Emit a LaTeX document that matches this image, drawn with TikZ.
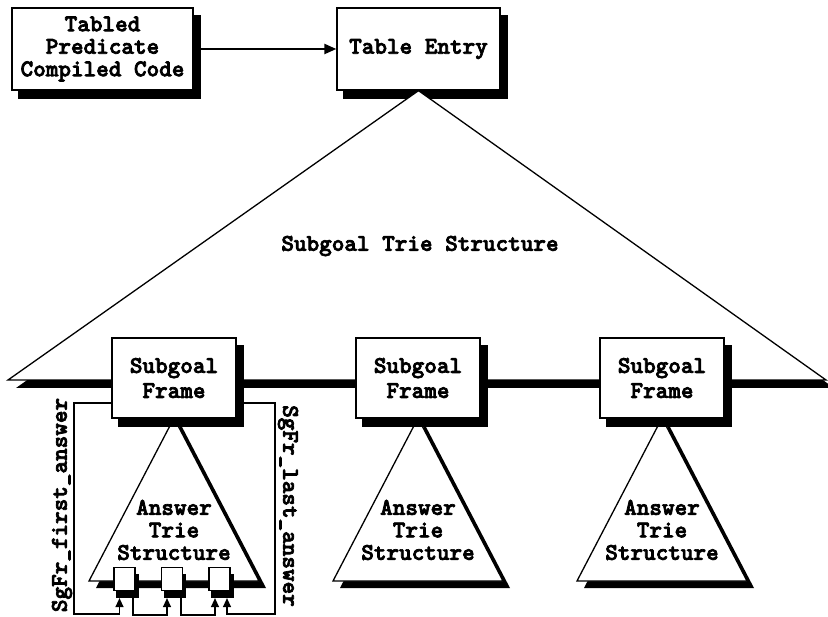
\documentclass[tikz,border=0pt]{standalone}
\usepackage{fontspec}
\newfontfamily\cour{lmmonolt10-bold}[Extension=.otf, FakeBold=3]
\usetikzlibrary{arrows.meta,shadows}
\begin{document}
\begin{tikzpicture}[x=1pt,y=-1pt,
  lbl/.style={font=\fontsize{24}{22.5}\cour, align=center, inner sep=0pt},
  shd/.style={drop shadow={shadow xshift=#1, shadow yshift=-8pt, fill=black, draw=black, opacity=1}},
  bigbox/.style={draw=black, line width=1.3pt, fill=white, lbl, shd=7pt},
  framebox/.style={bigbox, minimum width=124pt, minimum height=80pt, font=\fontsize{24}{25}\cour},
  smallbox/.style={draw=black, line width=1.2pt, fill=white, minimum width=21pt, minimum height=23pt, inner sep=0pt,
     drop shadow={shadow xshift=3pt, shadow yshift=-7pt, fill=black, draw=black, opacity=1}},
  tri/.style={draw=black, line width=1.3pt, fill=white, line join=miter},
  trishadow/.style={fill=black},
  conn/.style={draw=black, line width=1.3pt},
  upar/.style={conn, -{Triangle[length=9pt,width=8pt]}}
]
\useasboundingbox (0,0) rectangle (828,617);
% top boxes
\node[bigbox, minimum width=181pt, minimum height=82pt] (ta) at (102.5,49) {Tabled\\Predicate\\Compiled Code};
\node[bigbox, minimum width=163pt, minimum height=82pt] (te) at (418.5,49) {Table Entry};
\draw[line width=2.2pt, -{Triangle[length=12pt,width=10pt]}] (ta) -- (te);
% big triangle
\fill[trishadow] (16,388) -- (426,98) -- (834,388) -- cycle;
\draw[tri] (te.south) -- (8,380) -- (826,380) -- cycle;
\node[lbl] (st) at (420,246) {Subgoal Trie Structure};
% answer tries
\foreach \cx/\n in {174/1,418/2,662/3}{
  \fill[trishadow] (\cx+7,425) -- (\cx-78,588) -- (\cx+92,588) -- cycle;
  \draw[tri] (\cx,418) -- (\cx-85,581) -- (\cx+85,581) -- cycle;
  \node[lbl] (at\n) at (\cx,530) {Answer\\Trie\\Structure};
}
% subgoal frames
\node[framebox] (sf1) at (174,378) {Subgoal\\Frame};
\node[framebox] (sf2) at (418,378) {Subgoal\\Frame};
\node[framebox] (sf3) at (662,378) {Subgoal\\Frame};
% small answer boxes
\node[smallbox] (sb1) at (124.5,579) {};
\node[smallbox] (sb2) at (172,579) {};
\node[smallbox] (sb3) at (219.5,579) {};
% connectors
\coordinate (cl) at (74,614);
\coordinate (cr) at (275,614);
\draw[upar] ([yshift=-25pt]sf1.west) -| (cl) -| ([xshift=-5pt,yshift=-7pt]sb1.south);
\draw[upar] ([xshift=7pt,yshift=-25pt]sf1.east) -| (cr) -| ([xshift=7.5pt,yshift=-7pt]sb3.south);
\draw[upar] ([xshift=8.5pt]sb1.south) -- ++(0,24) -| ([xshift=-5pt,yshift=-7pt]sb2.south);
\draw[upar] ([xshift=9pt]sb2.south) -- ++(0,24) -| ([xshift=-4.5pt,yshift=-7pt]sb3.south);
% vertical labels
\node[lbl, rotate=90] (lab1) at (62,505) {SgFr\_first\_answer};
\node[lbl, rotate=-90] (lab2) at (288,506) {SgFr\_last\_answer};
\end{tikzpicture}
\end{document}
